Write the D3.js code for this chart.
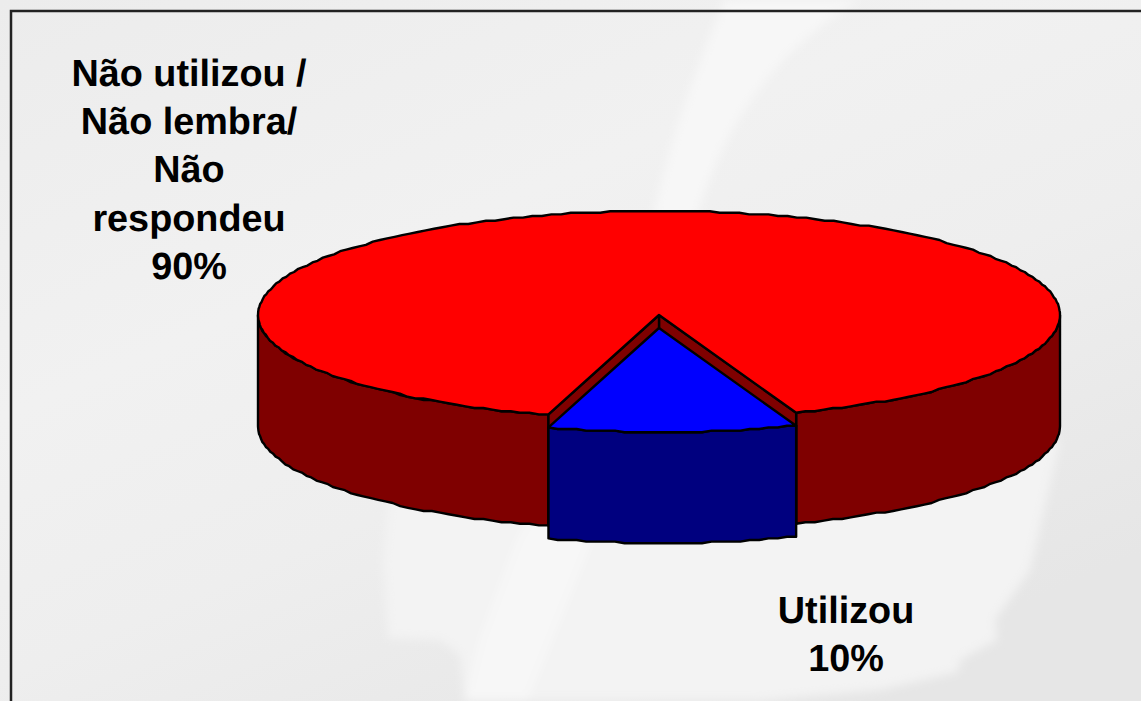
<!DOCTYPE html>
<html>
<head>
<meta charset="utf-8">
<style>
  html, body { margin: 0; padding: 0; background: #eee; overflow: hidden; }
  text { font-family: "Liberation Sans", Arial, sans-serif; font-weight: bold; fill: #000; text-rendering: geometricPrecision; }
</style>
<script src="https://cdn.jsdelivr.net/npm/d3@7"></script>
</head>
<body>
<svg width="1141" height="701"></svg>
<script>
// values
const categories = ["Utilizou", "Não utilizou / Não lembra/ Não respondeu"];
const values = [10, 90];
const topColors = ["#0000ff", "#ff0000"];
const sideColors = ["#00007f", "#7f0000"];
const utilizouLines = ["Utilizou", "10%"];
const naoLines = ["Não utilizou /", "Não lembra/", "Não", "respondeu", "90%"];

const w = 1141, h = 701;
const svg = d3.select("svg");
const defs = svg.append("defs");

// background
const grad = defs.append("linearGradient").attr("id", "bg")
  .attr("x1", 0).attr("y1", 0).attr("x2", 0.7).attr("y2", 1);
grad.append("stop").attr("offset", "0%").attr("stop-color", "#ececec");
grad.append("stop").attr("offset", "40%").attr("stop-color", "#f1f1f1");
grad.append("stop").attr("offset", "65%").attr("stop-color", "#eeeeee");
grad.append("stop").attr("offset", "100%").attr("stop-color", "#e6e6e6");
defs.append("filter").attr("id", "soft").append("feGaussianBlur").attr("stdDeviation", 5);

svg.append("rect").attr("width", w).attr("height", h).attr("fill", "url(#bg)");

const back = svg.append("g").attr("filter", "url(#soft)");
back.append("path")
  .attr("d", "M395,440 L1060,440 L1030,570 L995,620 L997,640 L960,660 L958,672 L880,690 L760,701 L465,701 L460,655 L440,640 L388,638 L383,560 Z")
  .attr("fill", "#f3f3f3");
back.append("path")
  .attr("d", "M725,0 L860,0 Q740,70 697,215 L640,420 L527,701 L465,701 L480,640 L517,540 L640,330 Q640,200 725,0 Z")
  .attr("fill", "#f7f7f7");

// frame, only top and left are inside the picture
svg.append("path")
  .attr("d", "M11,701 L11,11 L1141,11")
  .attr("fill", "none").attr("stroke", "#222").attr("stroke-width", 2.5);

// pie
const cx = 659, cy = 315, rx = 401, ry = 104, depth = 111, explode = 13;
const pie = d3.pie().sort(null)
  .startAngle(160 * Math.PI / 180)
  .endAngle((160 + 360) * Math.PI / 180);
const arcs = pie(values);

// the outline of the original is a slightly stepped polyline, so snap y a little
const snap = y => Math.round(y / 1.6) * 1.6;
const pt = (a, dy) => [cx + rx * Math.sin(a), snap(cy - ry * Math.cos(a)) + dy];
const line = d3.line();

function arcPts(a0, a1, dy) {
  const n = Math.max(2, Math.ceil(Math.abs(a1 - a0) / 0.025));
  return d3.range(n + 1).map(i => pt(a0 + (a1 - a0) * i / n, dy));
}
function wall(a0, a1, dy) {
  return line(arcPts(a0, a1, dy).concat(arcPts(a1, a0, dy + depth))) + "Z";
}
function wedge(a0, a1, dy) {
  return line([[cx, cy + dy]].concat(arcPts(a0, a1, dy))) + "Z";
}
function inner(a, dy) {
  return line([[cx, cy + dy], pt(a, dy), pt(a, dy + depth), [cx, cy + dy + depth]]) + "Z";
}

const pieG = svg.append("g")
  .attr("stroke", "#000").attr("stroke-width", 2.4).attr("stroke-linejoin", "round");

const blue = arcs[0], red = arcs[1];

// outer wall of the big slice, front half only
pieG.append("path").attr("d", wall(Math.PI / 2, blue.startAngle, 0)).attr("fill", sideColors[1]);
pieG.append("path").attr("d", wall(blue.endAngle, 1.5 * Math.PI, 0)).attr("fill", sideColors[1]);
// walls of the notch
pieG.append("path").attr("d", inner(blue.startAngle, 0)).attr("fill", sideColors[1]);
pieG.append("path").attr("d", inner(blue.endAngle, 0)).attr("fill", sideColors[1]);
// top of the big slice
pieG.append("path").attr("d", wedge(red.startAngle, red.endAngle, 0)).attr("fill", topColors[1]);
// pulled out slice
pieG.append("path").attr("d", wall(blue.startAngle, blue.endAngle, explode)).attr("fill", sideColors[0]);
pieG.append("path").attr("d", wedge(blue.startAngle, blue.endAngle, explode)).attr("fill", topColors[0]);

// labels
function label(lines, x, y) {
  svg.append("text")
    .attr("text-anchor", "middle")
    .style("font-size", "37.8px")
    .selectAll("tspan").data(lines).enter().append("tspan")
    .attr("x", x)
    .attr("y", (d, i) => y + i * 48.2)
    .text(d => d);
}
label(naoLines, 189, 86);
label(utilizouLines, 846, 623);
</script>
</body>
</html>
